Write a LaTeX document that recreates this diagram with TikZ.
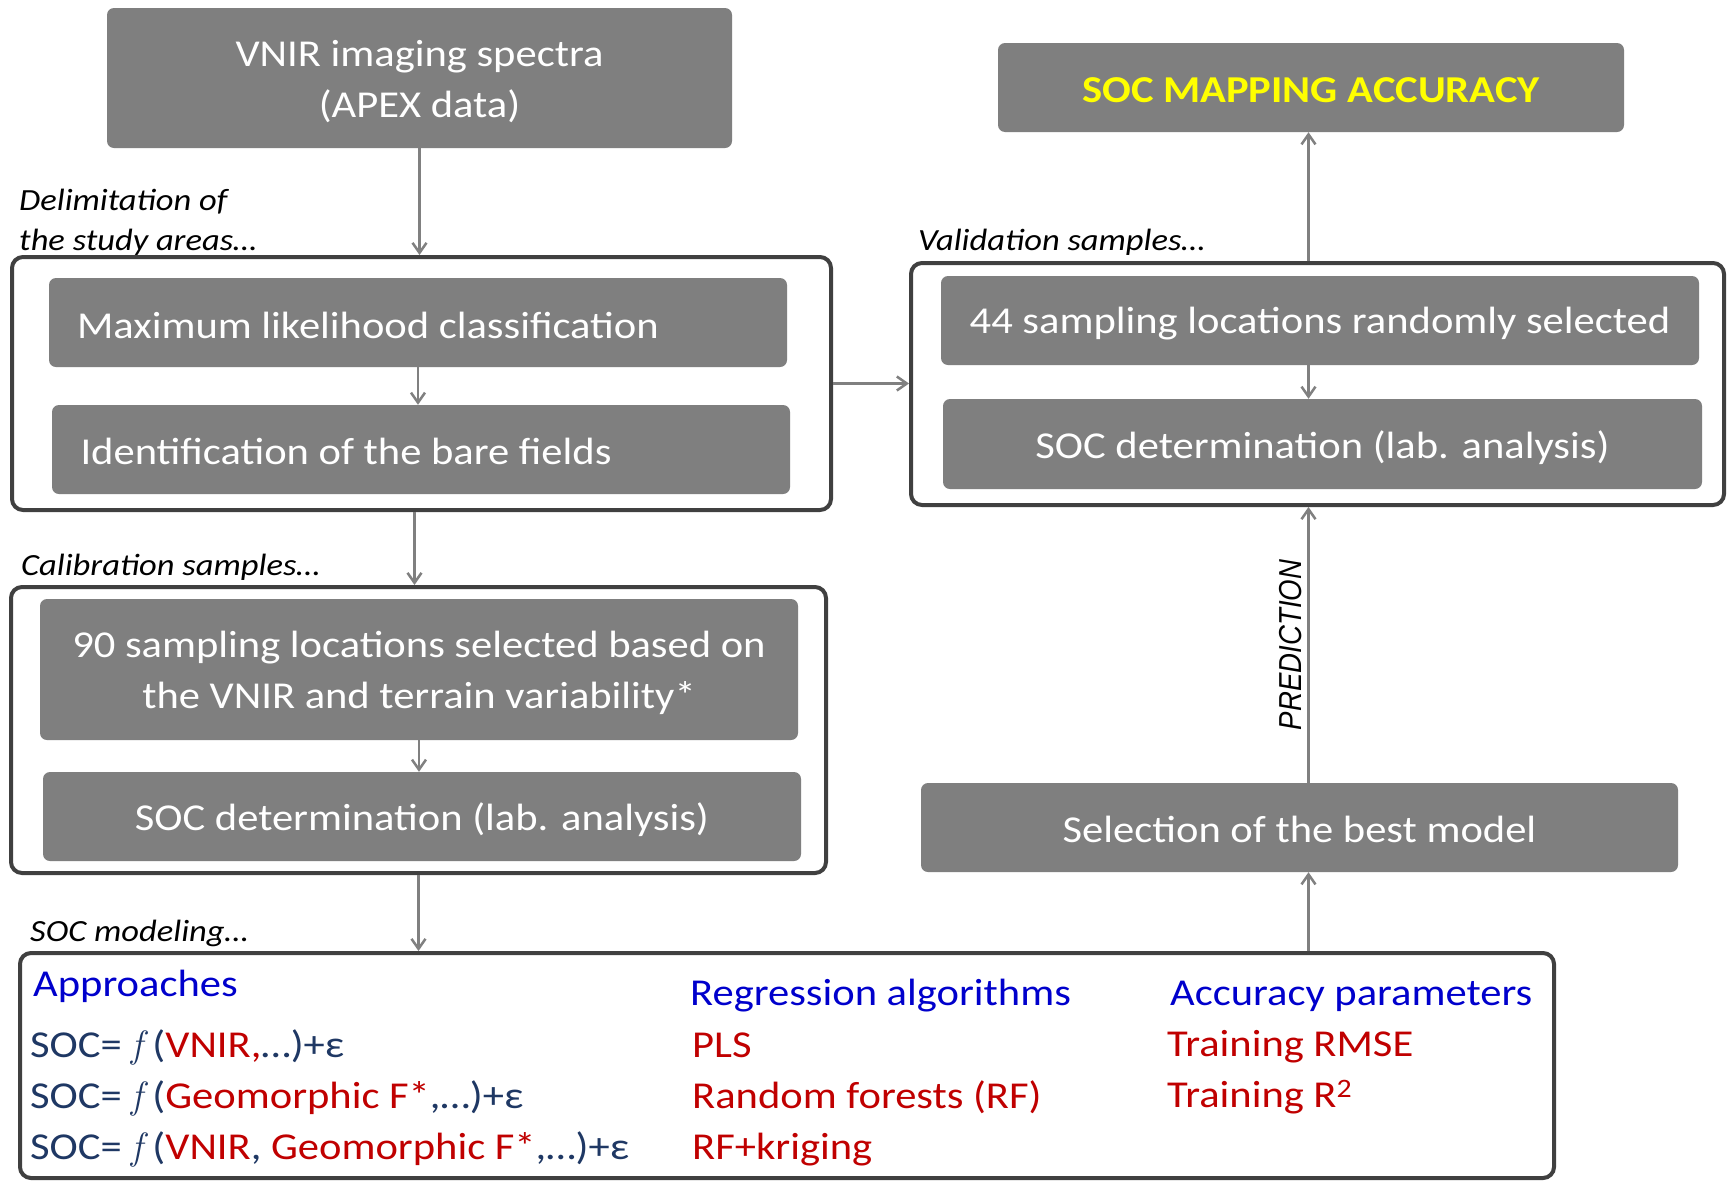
\documentclass[tikz,border=0pt]{standalone}
\usepackage{fontspec}
\setmainfont{Carlito}[FakeStretch=1.12]
\newfontfamily\predfont{Liberation Sans}
\usetikzlibrary{arrows.meta}
\definecolor{boxgray}{RGB}{127,127,127}
\definecolor{grpgray}{RGB}{64,64,64}
\definecolor{arrgray}{RGB}{128,128,128}
\definecolor{navy}{RGB}{31,56,100}
\definecolor{dred}{RGB}{192,0,0}
\definecolor{hblue}{RGB}{0,0,204}
\definecolor{yel}{RGB}{255,255,0}
\newcommand{\fit}{{\fontfamily{lmr}\fontshape{it}\selectfont f}}
\tikzset{
  gbox/.style={fill=boxgray, rounded corners=7pt, inner sep=0pt},
  gtxt/.style={text=white, inner sep=0pt, font=\fontsize{38}{51}\selectfont, align=center},
  grp/.style={draw=grpgray, line width=4pt, rounded corners=11pt, inner sep=0pt, fill=white},
  arr/.style={draw=arrgray, line width=2.5pt, -{Straight Barb[length=10pt,width=14pt]}},
  lbl/.style={font=\fontsize{30.8}{40}\selectfont\itshape, inner sep=0pt, anchor=base west},
  mtxt/.style={font=\fontsize{38}{46}\selectfont, inner sep=0pt, anchor=base west},
}
\begin{document}
\begin{tikzpicture}[x=1pt,y=-1pt]
\useasboundingbox[fill=white] (0,0) rectangle (1727,1181);

% group frames
\node[grp, minimum width=819pt, minimum height=253pt] (g1) at (421.5,383.5) {};
\node[grp, minimum width=813pt, minimum height=242pt] (val) at (1317.5,384) {};
\node[grp, minimum width=815pt, minimum height=286pt] (cal) at (418.5,730) {};
\node[grp, minimum width=1534pt, minimum height=225pt] (model) at (787,1065.5) {};

% gray boxes
\node[gbox, minimum width=625pt, minimum height=140pt] (vnir) at (419.5,78) {};
\node[gbox, minimum width=626pt, minimum height=89pt] (socmap) at (1311,87.5) {};
\node[gbox, minimum width=738pt, minimum height=89pt] (mlc) at (418,322.5) {};
\node[gbox, minimum width=738pt, minimum height=89pt] (idf) at (421,449.5) {};
\node[gbox, minimum width=758pt, minimum height=89pt] (s44) at (1320,320.5) {};
\node[gbox, minimum width=759pt, minimum height=90pt] (socR) at (1322.5,444) {};
\node[gbox, minimum width=758pt, minimum height=141pt] (s90) at (419,669.5) {};
\node[gbox, minimum width=758pt, minimum height=89pt] (socL) at (422,816.5) {};
\node[gbox, minimum width=757pt, minimum height=89pt] (sel) at (1299.5,827.5) {};

% box texts
\node[gtxt] (vnirT) at ([yshift=-4pt]vnir.center) {VNIR imaging spectra\\(APEX data)};
\node[gtxt, text=yel, font=\fontsize{38}{51}\selectfont\bfseries] (socmapT) at ([yshift=-2.5pt]socmap.center) {SOC MAPPING ACCURACY};
\node[gtxt, anchor=west] (mlcT) at ([xshift=28pt,yshift=-2.5pt]mlc.west) {Maximum likelihood classification};
\node[gtxt, anchor=west] (idfT) at ([xshift=28.5pt,yshift=-2pt]idf.west) {Identification of the bare fields};
\node[gtxt] (s44T) at ([yshift=-3.5pt]s44.center) {44 sampling locations randomly selected};
\node[gtxt] (socRT) at ([yshift=-4pt]socR.center) {SOC determination (lab. analysis)};
\node[gtxt] (s90T) at ([yshift=-3.5pt]s90.center) {90 sampling locations selected based on\\the VNIR and terrain variability*};
\node[gtxt] (socLT) at ([yshift=-3.5pt]socL.center) {SOC determination (lab. analysis)};
\node[gtxt] (selT) at ([yshift=-2pt]sel.center) {Selection of the best model};

% italic labels
\node[lbl] (ldel1) at (19,210) {Delimitation of};
\node[lbl] (ldel2) at (19,250) {the study areas…};
\node[lbl] (lval) at (918,250) {Validation samples…};
\node[lbl] (lcal) at (21,575) {Calibration samples…};
\node[lbl] (lmod) at (30,941) {SOC modeling…};

% modeling content
\node[mtxt, text=hblue] (hApp) at (33,996) {Approaches};
\node[mtxt, text=navy] (r1) at (30,1057) {SOC= \fit\ (\textcolor{dred}{VNIR,}…)+ε};
\node[mtxt, text=navy] (r2) at (30,1108) {SOC= \fit\ (\textcolor{dred}{Geomorphic F*},…)+ε};
\node[mtxt, text=navy] (r3) at (30,1159) {SOC= \fit\ (\textcolor{dred}{VNIR}, \textcolor{dred}{Geomorphic F*},…)+ε};
\node[mtxt, text=hblue] (hReg) at (690,1005) {Regression algorithms};
\node[mtxt, text=dred] (a1) at (692,1057) {PLS};
\node[mtxt, text=dred] (a2) at (692,1108) {Random forests (RF)};
\node[mtxt, text=dred] (a3) at (692,1159) {RF+kriging};
\node[mtxt, text=hblue] (hAcc) at (1170,1005) {Accuracy parameters};
\node[mtxt, text=dred] (p1) at (1167,1056) {Training RMSE};
\node[mtxt, text=dred] (p2) at (1167,1107) {Training R\textsuperscript{2}};

% connectors
\coordinate (axR) at (1308.5,0);
\draw[arr] (vnir.south) -- (vnir.south |- g1.north);
\draw[arr] (mlc.south) -- (mlc.south |- idf.north);
\draw[arr] (g1.east) -- (g1.east -| val.west);
\draw[arr] ([xshift=-7pt]g1.south) -- ([xshift=-7pt]g1.south |- cal.north);
\draw[arr] (s90.south) -- (s90.south |- socL.north);
\draw[arr] (cal.south) -- (cal.south |- model.north);
\draw[arr] (axR |- val.north) -- (axR |- socmap.south);
\draw[arr] (axR |- s44.south) -- (axR |- socR.north);
\draw[arr] (axR |- model.north) -- (axR |- sel.south);
\draw[arr] (axR |- sel.north) -- node[pos=0.5, rotate=90, anchor=south, inner sep=5pt,
  font=\predfont\itshape\fontsize{27.6}{30}\selectfont] (pred) {\scalebox{1}[1.15]{PREDICTION}} (axR |- val.south);
\end{tikzpicture}
\end{document}
